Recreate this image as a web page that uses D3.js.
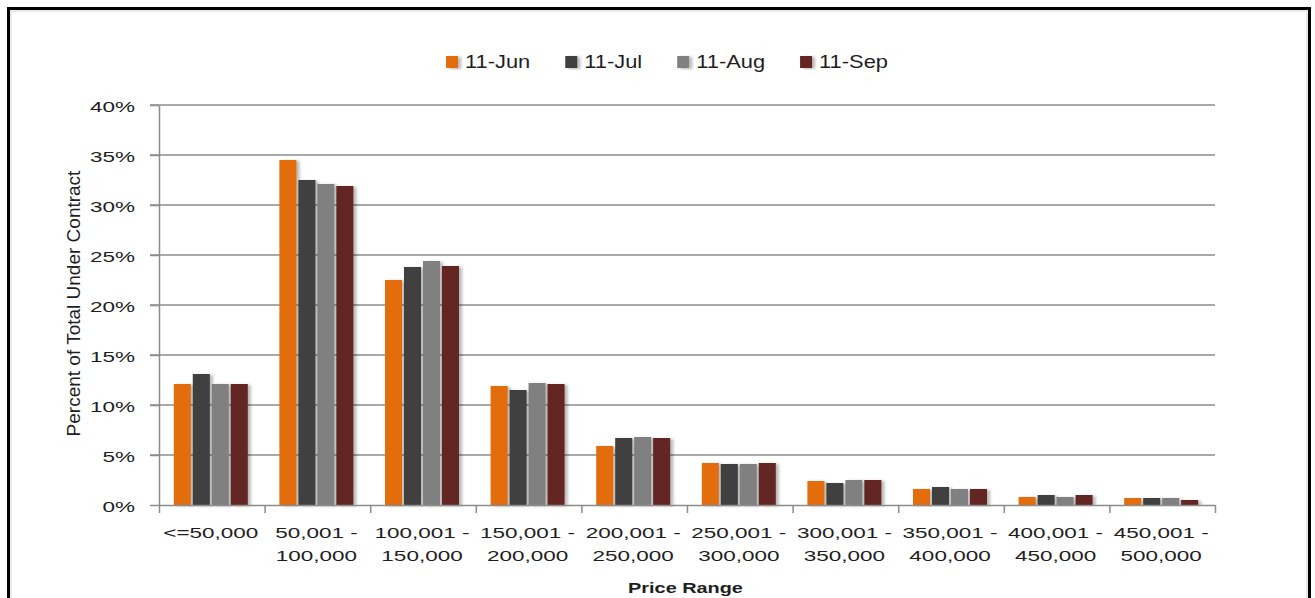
<!DOCTYPE html>
<html>
<head>
<meta charset="utf-8">
<script src="https://cdn.jsdelivr.net/npm/d3@7"></script>
<style>
  body { margin: 0; background: #fff; }
  svg { display: block; }
</style>
</head>
<body>
<svg id="chart" width="1315" height="598"></svg>
<script>
// Price ranges (x categories)
const categories = [
  "<=50,000",
  "50,001 - 100,000",
  "100,001 - 150,000",
  "150,001 - 200,000",
  "200,001 - 250,000",
  "250,001 - 300,000",
  "300,001 - 350,000",
  "350,001 - 400,000",
  "400,001 - 450,000",
  "450,001 - 500,000"
];

// Series names (months)
const seriesNames = ["11-Jun", "11-Jul", "11-Aug", "11-Sep"];

// Percent of total under contract per price range
const jun = [12.1, 34.5, 22.5, 11.9, 5.9, 4.2, 2.4, 1.6, 0.8, 0.7];
const jul = [13.1, 32.5, 23.8, 11.5, 6.7, 4.1, 2.2, 1.8, 1.0, 0.7];
const aug = [12.1, 32.1, 24.4, 12.2, 6.8, 4.1, 2.5, 1.6, 0.8, 0.7];
const sep = [12.1, 31.9, 23.9, 12.1, 6.7, 4.2, 2.5, 1.6, 1.0, 0.5];

const yTicks = [0, 5, 10, 15, 20, 25, 30, 35, 40];

const seriesValues = [jun, jul, aug, sep];
const colors = ["#e36c09", "#404040", "#808080", "#632523"];

const svg = d3.select("#chart");
const FONT = "'Liberation Sans', Arial, sans-serif";
const TEXT = "#1e1e1e";

// outer frame
svg.append("rect")
  .attr("x", 8.5).attr("y", 8.5)
  .attr("width", 1301).attr("height", 640)
  .attr("fill", "#fff").attr("stroke", "#000").attr("stroke-width", 3);
svg.append("rect")
  .attr("x", 11).attr("y", 11)
  .attr("width", 1296).attr("height", 640)
  .attr("fill", "none").attr("stroke", "#d4d4d4").attr("stroke-width", 1);

// soft bar shadow
const defs = svg.append("defs");
const f = defs.append("filter").attr("id", "shadow")
  .attr("x", "-20%").attr("y", "-5%").attr("width", "160%").attr("height", "115%");
f.append("feDropShadow")
  .attr("dx", 3).attr("dy", 1).attr("stdDeviation", 1.4)
  .attr("flood-color", "#000").attr("flood-opacity", 0.28);

// scales
const plotLeft = 159, plotRight = 1215, plotTop = 105, plotBottom = 505;
const x0 = d3.scaleBand().domain(categories).range([plotLeft, plotRight]);
const clusterW = 74;
const x1 = d3.scaleBand().domain(seriesNames).range([0, clusterW]).paddingInner(0.1);
const y = d3.scaleLinear().domain([0, 40]).range([plotBottom, plotTop]);

// gridlines
svg.append("g")
  .selectAll("line")
  .data(yTicks.filter(t => t > 0))
  .join("line")
  .attr("x1", plotLeft - 9).attr("x2", plotRight)
  .attr("y1", d => y(d)).attr("y2", d => y(d))
  .attr("stroke", "#8c8c8c").attr("stroke-width", 1.5);

// bars
const groups = svg.append("g")
  .selectAll("g")
  .data(categories)
  .join("g")
  .attr("transform", c => `translate(${x0(c) + (x0.bandwidth() - clusterW) / 2 - 1},0)`);

groups.selectAll("rect")
  .data((c, i) => seriesNames.map((s, k) => ({ s, v: seriesValues[k][i], k })))
  .join("rect")
  .attr("x", d => x1(d.s))
  .attr("width", x1.bandwidth())
  .attr("y", d => y(d.v))
  .attr("height", d => y(0) - y(d.v))
  .attr("fill", d => colors[d.k])
  .attr("filter", "url(#shadow)");

// y axis
const yAxis = svg.append("g")
  .attr("transform", `translate(${plotLeft},0)`)
  .call(d3.axisLeft(y).tickValues(yTicks).tickSize(9).tickSizeOuter(0).tickFormat(d => d + "%"));
yAxis.select(".domain").attr("stroke", "#8c8c8c").attr("stroke-width", 1.5);
yAxis.selectAll(".tick line").attr("stroke", "#8c8c8c").attr("stroke-width", 1.5);
yAxis.selectAll(".tick text")
  .attr("x", 0).attr("dy", null)
  .attr("transform", "translate(-24,6.5) scale(1.5,1)")
  .attr("text-anchor", "end")
  .attr("fill", TEXT)
  .style("font-family", FONT).style("font-size", "15px");

// x axis with ticks on category boundaries
const bounds = d3.scaleLinear().domain([0, categories.length]).range([plotLeft, plotRight]);
const xAxis = svg.append("g")
  .attr("transform", `translate(0,${plotBottom})`)
  .call(d3.axisBottom(bounds).ticks(categories.length).tickSize(8).tickSizeOuter(0).tickFormat(""));
xAxis.select(".domain").attr("stroke", "#8c8c8c").attr("stroke-width", 1.5);
xAxis.selectAll(".tick line").attr("stroke", "#8c8c8c").attr("stroke-width", 1.5);

// category labels (two lines)
const labels = svg.append("g")
  .selectAll("text")
  .data(categories)
  .join("text")
  .attr("transform", c => `translate(${x0(c) + x0.bandwidth() / 2 - 1},537.5) scale(1.5,1)`)
  .attr("text-anchor", "middle")
  .attr("fill", TEXT)
  .style("font-family", FONT).style("font-size", "15px");
labels.each(function (c) {
  const parts = c.split(" - ");
  const lines = parts.length > 1 ? [parts[0] + " -", parts[1]] : [c];
  d3.select(this).selectAll("tspan")
    .data(lines)
    .join("tspan")
    .attr("x", 0)
    .attr("dy", (d, i) => i === 0 ? 0 : 24)
    .text(d => d);
});

// axis titles
svg.append("text")
  .attr("transform", `translate(685.5,593) scale(1.29,1)`)
  .attr("text-anchor", "middle")
  .attr("fill", TEXT)
  .style("font-family", FONT).style("font-size", "15.4px").style("font-weight", "bold")
  .text("Price Range");

svg.append("text")
  .attr("transform", "translate(80,303.5) rotate(-90)")
  .attr("text-anchor", "middle")
  .attr("fill", TEXT)
  .style("font-family", FONT).style("font-size", "19px")
  .text("Percent of Total Under Contract");

// legend
const legend = svg.append("g");
const legendScale = 1.25;
let lx = 0;
seriesNames.forEach((s, k) => {
  const g = legend.append("g").attr("transform", `translate(${lx},0)`);
  g.append("rect")
    .attr("x", 0).attr("y", 56)
    .attr("width", 12).attr("height", 12)
    .attr("fill", colors[k])
    .attr("filter", "url(#shadow)");
  const t = g.append("text")
    .attr("transform", `translate(19,67.5) scale(${legendScale},1)`)
    .attr("fill", TEXT)
    .style("font-family", FONT).style("font-size", "17.5px")
    .text(s);
  const w = t.node().getComputedTextLength() * legendScale;
  lx += 19 + w + 35;
});
const legendW = lx - 35;
legend.attr("transform", `translate(${667 - legendW / 2},0)`);
</script>
</body>
</html>
